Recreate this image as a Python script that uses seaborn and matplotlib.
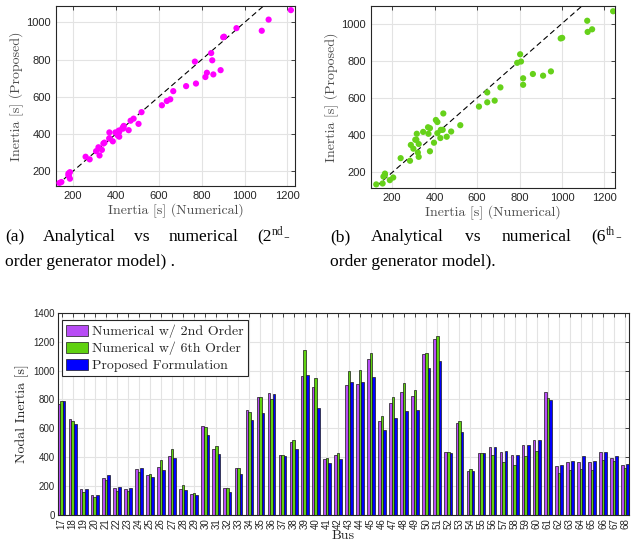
import matplotlib
matplotlib.use("Agg")
import matplotlib.pyplot as plt
import seaborn as sns
import pandas as pd

# bus numbers and nodal inertia values [s]
buses = list(range(17, 69))
order2 = [768, 667, 178, 136, 258, 185, 178, 318, 277, 334, 408, 180, 145, 614, 459, 185, 323,
          727, 817, 844, 415, 505, 962, 888, 385, 415, 900, 904, 1080, 653, 773, 854, 824, 1112,
          1216, 434, 637, 307, 429, 468, 436, 413, 482, 519, 849, 341, 369, 369, 369, 434, 397, 346]
order6 = [789, 648, 159, 125, 240, 166, 166, 300, 284, 378, 457, 205, 155, 609, 478, 189, 325,
          710, 817, 803, 413, 521, 1142, 948, 397, 427, 994, 1001, 1121, 683, 817, 911, 863, 1119,
          1241, 438, 648, 321, 429, 413, 369, 346, 406, 441, 807, 288, 309, 316, 314, 378, 371, 325]
proposed = [789, 630, 178, 136, 277, 194, 187, 328, 263, 314, 392, 173, 141, 554, 420, 159, 284,
            657, 706, 835, 411, 454, 969, 743, 360, 385, 920, 923, 955, 586, 671, 720, 729, 1015,
            1066, 429, 577, 307, 429, 471, 443, 418, 482, 517, 796, 348, 376, 408, 376, 438, 408, 353]
series_names = ["Numerical w/ 2nd Order", "Numerical w/ 6th Order", "Proposed Formulation"]

sns.set_style("whitegrid")
plt.rcParams['font.family'] = ['Liberation Sans', 'DejaVu Sans']
plt.rcParams['xtick.direction'] = 'in'
plt.rcParams['ytick.direction'] = 'in'
plt.rcParams['axes.edgecolor'] = '#262626'
plt.rcParams['axes.linewidth'] = 0.8
plt.rcParams['grid.color'] = '#e3e3e3'
plt.rcParams['grid.linewidth'] = 0.8

SERIF = 'cmr10'
LABEL_GRAY = '#4d4d4d'

fig = plt.figure(figsize=(6.33, 5.49), dpi=100)
ax_a = fig.add_axes([0.0885, 0.661, 0.3775, 0.328])
ax_b = fig.add_axes([0.586, 0.658, 0.3856, 0.331])
ax_bar = fig.add_axes([0.0912, 0.0619, 0.9025, 0.3685])


def style_scatter(ax, xlim, ylim):
    ax.set_xlim(*xlim)
    ax.set_ylim(*ylim)
    ax.plot([0, 1400], [0, 1400], color='black', ls='--', lw=0.8, dashes=(5, 3), zorder=1)
    ax.set_xticks(range(200, 1201, 200))
    ax.set_yticks(range(200, 1001, 200))
    ax.tick_params(labelsize=8, colors='#262626', length=3, width=0.6,
                   top=True, right=True, labelcolor='#262626')
    ax.set_xlabel("Inertia [s] (Numerical)", fontfamily=SERIF, fontsize=10,
                  color=LABEL_GRAY, labelpad=2)
    ax.set_ylabel("Inertia [s] (Proposed)", fontfamily=SERIF, fontsize=10,
                  color=LABEL_GRAY, labelpad=2)
    for s in ax.spines.values():
        s.set_visible(True)
        s.set_color('#262626')
        s.set_linewidth(0.8)
    ax.set_axisbelow(True)


sns.scatterplot(x=order2, y=proposed, color='#ff00ff', s=20, edgecolor='none', ax=ax_a, zorder=3)
style_scatter(ax_a, (120, 1235), (119, 1088))
sns.scatterplot(x=order6, y=proposed, color='#66d11a', s=20, edgecolor='none', ax=ax_b, zorder=3)
style_scatter(ax_b, (100, 1250), (118, 1094))

# captions (first line justified between x0 and x1 pixels)
CAP_SIZE = 12.6
CAP = dict(fontfamily='Liberation Serif', fontsize=CAP_SIZE, va='baseline', color='black')
y1 = 1 - 241 / 549
y2 = 1 - 266 / 549
renderer = fig.canvas.get_renderer()


def caption(words, x0, x1, sup, tail, line2):
    texts = [fig.text(x0 / 633, y1, w, **CAP) for w in words]
    s = ax_bar.annotate(sup, xy=(1, y1 + 5.5 / 549), xycoords=(texts[-1], 'figure fraction'),
                        va='baseline', ha='left', fontfamily='Liberation Serif', fontsize=8.5)
    d = ax_bar.annotate(tail, xy=(1, y1), xycoords=(s, 'figure fraction'), va='baseline',
                        ha='left', fontfamily='Liberation Serif', fontsize=CAP_SIZE)
    widths = [t.get_window_extent(renderer).width for t in texts]
    extra = s.get_window_extent(renderer).width + d.get_window_extent(renderer).width
    gap = (x1 - x0 - sum(widths) - extra) / (len(words) - 1)
    x = x0
    for t, w in zip(texts, widths):
        t.set_x(x / 633)
        x += w + gap
    fig.text(x0 / 633, y2, line2, **CAP)


caption(["(a)", "Analytical", "vs", "numerical", "(2"], 5, 289, "nd", "-",
        "order generator model) .")
caption(["(b)", "Analytical", "vs", "numerical", "(6"], 330, 621, "th", "-",
        "order generator model).")

# grouped bar chart
df = pd.DataFrame({
    "Bus": [str(b) for b in buses] * 3,
    "Inertia": order2 + order6 + proposed,
    "Model": [series_names[0]] * len(buses) + [series_names[1]] * len(buses)
             + [series_names[2]] * len(buses),
})
palette = ['#b84cf5', '#5fd10f', '#0000ff']
sns.barplot(data=df, x="Bus", y="Inertia", hue="Model", palette=palette, saturation=1,
            width=0.7, edgecolor='#1a1a1a', linewidth=0.5, errorbar=None, ax=ax_bar, zorder=2)
ax_bar.set_xlim(-0.35, len(buses) - 0.65)
ax_bar.set_ylim(0, 1400)
ax_bar.set_yticks(range(0, 1401, 200))
ax_bar.tick_params(axis='x', labelsize=7, rotation=90, length=3, width=0.6, top=True, pad=2)
ax_bar.tick_params(axis='y', labelsize=7, length=3, width=0.6, right=True, pad=2)
ax_bar.grid(True, axis='both')
ax_bar.set_axisbelow(True)
for s in ax_bar.spines.values():
    s.set_visible(True)
    s.set_color('#262626')
    s.set_linewidth(0.8)
ax_bar.set_xlabel("Bus", fontfamily=SERIF, fontsize=10, labelpad=1)
ax_bar.set_ylabel("Nodal Inertia [s]", fontfamily=SERIF, fontsize=10, labelpad=3)

handles, labels = ax_bar.get_legend_handles_labels()
leg = ax_bar.legend(handles, labels, loc='upper left', bbox_to_anchor=(0.007, 0.962),
                    borderaxespad=0, frameon=True, fancybox=False, framealpha=1,
                    edgecolor='#262626', prop={'family': SERIF, 'size': 10},
                    handlelength=1.6, handleheight=0.9, handletextpad=0.3,
                    labelspacing=0.25, borderpad=0.3)
leg.get_frame().set_linewidth(0.8)

fig.savefig("out.png", dpi=100)
